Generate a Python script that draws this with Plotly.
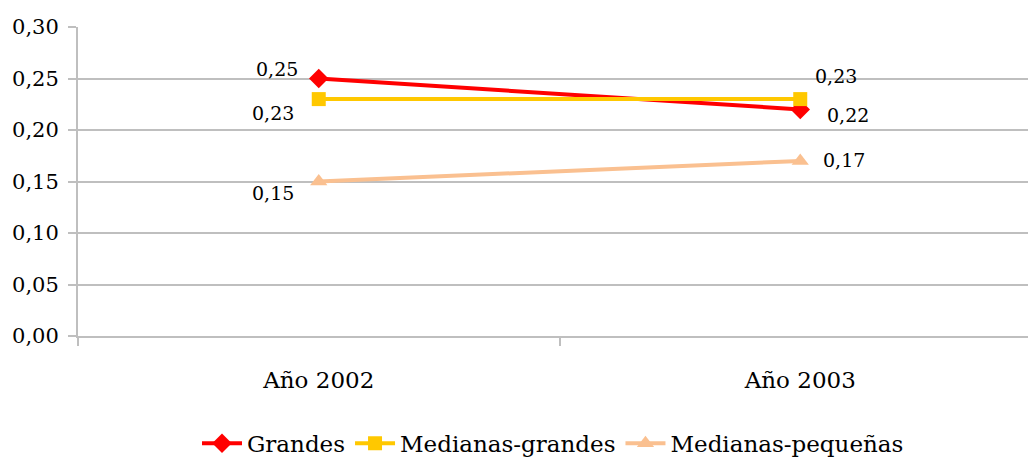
import plotly.graph_objects as go

years = ["Año 2002", "Año 2003"]
grandes = [0.25, 0.22]
medianas_grandes = [0.23, 0.23]
medianas_pequenas = [0.15, 0.17]

series = [
    ("Grandes", grandes, "#FF0000", "diamond", 15),
    ("Medianas-grandes", medianas_grandes, "#FFC800", "square", 14),
    ("Medianas-pequeñas", medianas_pequenas, "#FAC090", "triangle-up", 15),
]

# label offsets (px) per series and point
offsets = {
    "Grandes": [(-42, 10), (48, -6)],
    "Medianas-grandes": [(-46, -14), (36, 23)],
    "Medianas-pequeñas": [(-46, -11), (44, 1)],
}

FONT = "DejaVu Serif"

fig = go.Figure()
annotations = []
for name, vals, color, symbol, msize in series:
    fig.add_trace(go.Scatter(
        x=years, y=vals, name=name, mode="lines+markers",
        line=dict(color=color, width=4),
        marker=dict(symbol=symbol, size=msize, color=color),
    ))
    for (xv, yv), (dx, dy) in zip(zip(years, vals), offsets[name]):
        annotations.append(dict(
            x=xv, y=yv, xref="x", yref="y",
            text=f"{yv:.2f}".replace(".", ","),
            showarrow=False, xshift=dx, yshift=dy,
            font=dict(family=FONT, size=19, color="#000000"),
        ))

fig.update_layout(
    width=1028, height=457,
    margin=dict(l=78, r=0, t=27, b=121, autoexpand=False),
    paper_bgcolor="white", plot_bgcolor="white",
    separators=",.",
    font=dict(family=FONT, size=21, color="#000000"),
    showlegend=True,
    legend=dict(orientation="h", x=0.5, xanchor="center", yref="container",
                y=0.03, yanchor="middle",
                font=dict(family=FONT, size=23), itemwidth=40, tracegroupgap=0),
    annotations=annotations,
    xaxis=dict(
        type="category", range=[-0.5, 1.473],
        showgrid=False, showline=True, linecolor="#BFBFBF", linewidth=2,
        ticks="outside", tickson="boundaries", ticklen=8, tickwidth=2, tickcolor="#BFBFBF",
        tickfont=dict(family=FONT, size=23), ticklabelstandoff=22,
    ),
    yaxis=dict(
        range=[0, 0.30], dtick=0.05, tickformat=".2f",
        showgrid=True, gridcolor="#BFBFBF", gridwidth=2,
        showline=True, linecolor="#BFBFBF", linewidth=2,
        ticks="outside", ticklen=8, tickwidth=2, tickcolor="#BFBFBF",
        tickfont=dict(family=FONT, size=21), ticklabelstandoff=5, zeroline=False,
    ),
)

fig.write_html("out.html")
